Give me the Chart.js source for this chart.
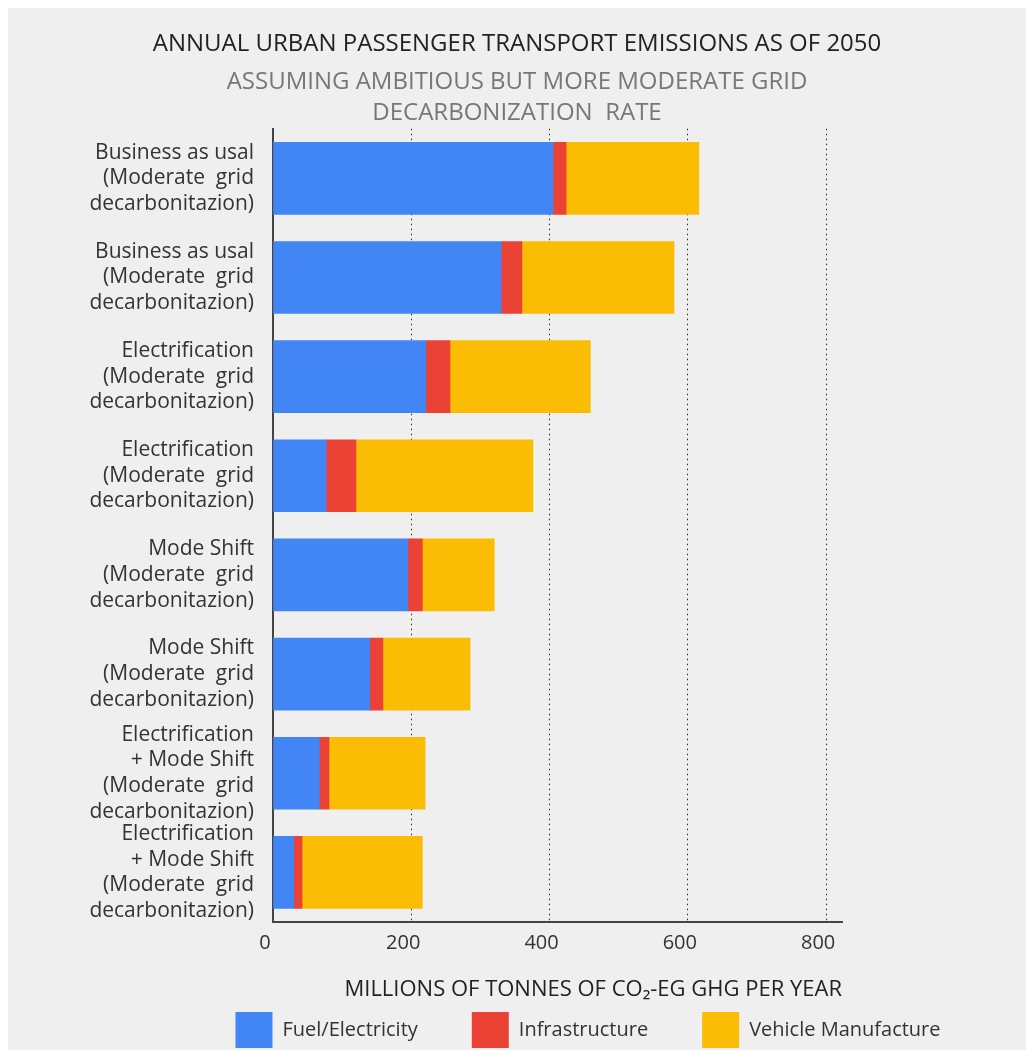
<!DOCTYPE html>
<html>
<head>
<meta charset="utf-8">
<title>Annual urban passenger transport emissions as of 2050</title>
<script src="https://cdn.jsdelivr.net/npm/chart.js@4/dist/chart.umd.min.js"></script>
<style>
  html, body { margin: 0; padding: 0; background: #ffffff; }
  #panel { position: absolute; left: 8px; top: 8px; width: 1018px; height: 1042px; background: #efefef; }
  canvas { display: block; }
</style>
</head>
<body>
<div id="panel"><canvas id="chart" width="1018" height="1042"></canvas></div>
<script>
// Scenario names (one bar each, top to bottom)
const categories = [
  ["Business as usal", "(Moderate  grid", "decarbonitazion)"],
  ["Business as usal", "(Moderate  grid", "decarbonitazion)"],
  ["Electrification", "(Moderate  grid", "decarbonitazion)"],
  ["Electrification", "(Moderate  grid", "decarbonitazion)"],
  ["Mode Shift", "(Moderate  grid", "decarbonitazion)"],
  ["Mode Shift", "(Moderate  grid", "decarbonitazion)"],
  ["Electrification", "+ Mode Shift", "(Moderate  grid", "decarbonitazion)"],
  ["Electrification", "+ Mode Shift", "(Moderate  grid", "decarbonitazion)"]
];

// Millions of tonnes of CO2-eq per year, by emission source
const fuelElectricity    = [405, 330, 221, 77, 195, 140, 67, 30];
const infrastructure     = [19, 30, 35, 43, 21, 19, 14, 12];
const vehicleManufacture = [192, 220, 203, 256, 104, 126, 139, 174];

const seriesNames = ["Fuel/Electricity", "Infrastructure", "Vehicle Manufacture"];
const xTickValues = [0, 200, 400, 600, 800];

const FONT = "'Open Sans', 'Noto Sans', sans-serif";

// Places the legend under the axis title, centred under the plot
const legendPlacement = {
  id: 'legendPlacement',
  afterLayout(chart) {
    const lg = chart.legend;
    if (!lg) return;
    lg.top = 950;
    lg.bottom = chart.height;
    lg.height = lg.bottom - lg.top;
    const off = 580 - (lg.left + lg.right) / 2;
    lg.left += off;
    lg.right += off;
  }
};

new Chart(document.getElementById('chart'), {
  type: 'bar',
  data: {
    labels: categories,
    datasets: [
      { label: seriesNames[0], data: fuelElectricity,    backgroundColor: '#4285F4' },
      { label: seriesNames[1], data: infrastructure,     backgroundColor: '#EA4335' },
      { label: seriesNames[2], data: vehicleManufacture, backgroundColor: '#FBBC04' }
    ]
  },
  options: {
    indexAxis: 'y',
    responsive: false,
    animation: false,
    events: [],
    layout: { padding: 0 },
    datasets: { bar: { barThickness: 72, borderWidth: 0 } },
    scales: {
      x: {
        type: 'linear',
        stacked: true,
        min: 0,
        max: 823,
        afterBuildTicks(scale) { scale.ticks = xTickValues.map(v => ({ value: v })); },
        ticks: {
          includeBounds: false,
          stepSize: 200,
          color: '#333',
          font: { family: FONT, size: 20 },
          padding: 9,
          labelOffset: -8
        },
        grid: {
          drawTicks: false,
          lineWidth: 1,
          color: ctx => (ctx.tick && ctx.tick.value === 0) ? 'rgba(0,0,0,0)' : '#222'
        },
        border: { display: true, color: '#444', width: 2, dash: [1.5, 3.5] },
        title: {
          display: true,
          text: 'MILLIONS OF TONNES OF CO\u2082-EG GHG PER YEAR',
          align: 'end',
          color: '#222',
          font: { family: FONT, size: 22, lineHeight: 1.2 },
          padding: { top: 0, bottom: 7 }
        },
        afterFit(scale) { scale.height = 88; }
      },
      y: {
        type: 'category',
        stacked: true,
        grid: { display: false, drawTicks: false },
        border: { display: true, color: '#444', width: 2 },
        ticks: {
          autoSkip: false,
          color: '#333',
          font: { family: FONT, size: 21, lineHeight: 1.22 },
          padding: 19
        },
        afterFit(scale) { scale.width = 265; }
      },
      // empty right-hand margin so the plot ends where the axis line does
      yMargin: {
        type: 'category',
        position: 'right',
        grid: { display: false, drawTicks: false },
        border: { display: false },
        ticks: { display: false },
        afterFit(scale) { scale.width = 184; }
      }
    },
    plugins: {
      tooltip: { enabled: false },
      title: {
        display: true,
        text: 'ANNUAL URBAN PASSENGER TRANSPORT EMISSIONS AS OF 2050',
        color: '#222',
        font: { family: FONT, size: 24, weight: 'normal', lineHeight: 1.2 },
        padding: { top: 22, bottom: 0 }
      },
      subtitle: {
        display: true,
        text: ['ASSUMING AMBITIOUS BUT MORE MODERATE GRID', 'DECARBONIZATION  RATE'],
        color: '#777',
        font: { family: FONT, size: 24, weight: 'normal', lineHeight: 1.29 },
        padding: { top: 8, bottom: 0 }
      },
      legend: {
        display: true,
        position: 'bottom',
        maxHeight: 40,
        labels: {
          boxWidth: 37,
          boxHeight: 36,
          padding: 54,
          color: '#333',
          font: { family: FONT, size: 20 }
        }
      }
    }
  },
  plugins: [legendPlacement]
});
</script>
</body>
</html>
